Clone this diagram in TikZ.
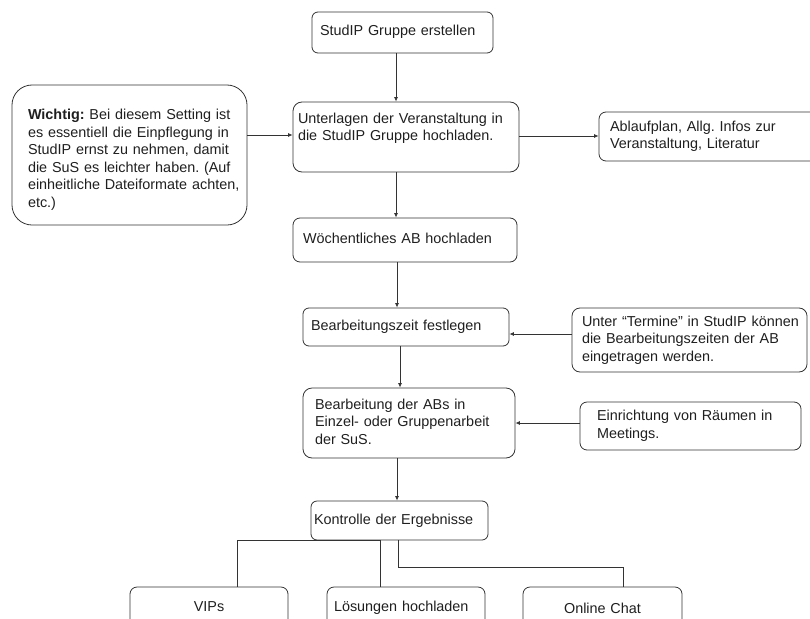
\documentclass[tikz,border=0pt]{standalone}
\usepackage{fontspec}
\setmainfont{Liberation Sans}
\usetikzlibrary{arrows.meta}
\definecolor{lc}{HTML}{333333}
\definecolor{tc}{HTML}{1F1F1F}
\frenchspacing
\begin{document}
\begin{tikzpicture}[x=1pt,y=-1pt,
  every node/.style={font=\fontsize{14.4}{17.5}\selectfont, text=tc},
  box/.style={draw=lc, line width=0.8pt, inner ysep=0pt, align=left,
    execute at begin node=\strut, execute at end node=\strut},
  cbox/.style={box, align=center},
  arr/.style={draw=lc, line width=0.8pt, -{Latex[length=4.5pt,width=4pt]}},
  ln/.style={draw=lc, line width=0.8pt}
]
\useasboundingbox (0,0) rectangle (810,618);
\clip (0,0) rectangle (810,618);

% boxes
\node[box, minimum width=181pt, minimum height=41pt, text width=165pt, inner xsep=8pt, rounded corners=6pt]
  (studip) at (402.5,32.5) {StudIP Gruppe erstellen};
\node[box, minimum width=226pt, minimum height=70pt, text width=216pt, inner xsep=5pt, rounded corners=9pt]
  (unterlagen) at (406,137) {\mbox{Unterlagen der Veranstaltung in}\\\mbox{die StudIP Gruppe hochladen.}\\};
\node[box, minimum width=235pt, minimum height=140pt, text width=203pt, inner xsep=16pt, rounded corners=20pt]
  (wichtig) at (129.5,155) {\rule{0pt}{22pt}\mbox{\textbf{Wichtig:} Bei diesem Setting ist}\\
  \mbox{es essentiell die Einpflegung in}\\
  \mbox{StudIP ernst zu nehmen, damit}\\
  \mbox{die SuS es leichter haben. (Auf}\\
  \mbox{einheitliche Dateiformate achten,}\\
  etc.)};
\node[box, minimum width=241pt, minimum height=49pt, text width=219pt, inner xsep=11pt, rounded corners=7pt]
  (ablauf) at (719.5,136.5) {\mbox{Ablaufplan, Allg. Infos zur}\\\mbox{Veranstaltung, Literatur}};
\node[box, minimum width=224pt, minimum height=44pt, text width=204pt, inner xsep=10pt, rounded corners=7pt]
  (woch) at (405,240) {Wöchentliches AB hochladen};
\node[box, minimum width=206pt, minimum height=38pt, text width=190pt, inner xsep=8pt, rounded corners=6pt]
  (bzeit) at (406,327) {Bearbeitungszeit festlegen};
\node[box, minimum width=235pt, minimum height=64pt, text width=215pt, inner xsep=10pt, rounded corners=8pt]
  (termine) at (689.5,340) {\mbox{Unter “Termine” in StudIP können}\\\mbox{die Bearbeitungszeiten der AB}\\\mbox{eingetragen werden.}};
\node[box, minimum width=212pt, minimum height=70pt, text width=188pt, inner xsep=12pt, rounded corners=9pt]
  (bearb) at (409,423) {\mbox{Bearbeitung der ABs in}\\\mbox{Einzel- oder Gruppenarbeit}\\\mbox{der SuS.}};
\node[box, minimum width=221pt, minimum height=48pt, text width=187pt, inner xsep=17pt, rounded corners=7pt]
  (einr) at (690.5,426) {\mbox{Einrichtung von Räumen in}\\\mbox{Meetings.}};
\node[box, minimum width=177pt, minimum height=39pt, text width=171pt, inner xsep=3pt, rounded corners=6pt]
  (kontrolle) at (399.5,520.5) {Kontrolle der Ergebnisse};
\node[cbox, minimum width=158pt, minimum height=42pt, text width=148pt, inner xsep=5pt, rounded corners=7pt]
  (vips) at (209,608) {VIPs};
\node[box, minimum width=158pt, minimum height=42pt, text width=144pt, inner xsep=7pt, rounded corners=7pt]
  (losungen) at (406,608) {\mbox{Lösungen hochladen}};
\node[cbox, minimum width=159pt, minimum height=46pt, text width=149pt, inner xsep=5pt, rounded corners=7pt]
  (online) at (602.5,610) {Online Chat};

% helper coordinates
\coordinate (c1) at (396,0);
\coordinate (c2) at (397,0);
\coordinate (c3) at (400,0);
\coordinate (c6) at (380,0);
\coordinate (c7) at (237,0);
\coordinate (c8) at (398,0);
\coordinate (c9) at (623,0);
\coordinate (r1) at (0,135);
\coordinate (r2) at (0,136);
\coordinate (r3) at (0,334);
\coordinate (r5) at (0,567);

% connectors
\draw[arr] (studip.south -| c1) -- (unterlagen.north -| c1);
\draw[arr] (unterlagen.south -| c1) -- (woch.north -| c1);
\draw[arr] (woch.south -| c2) -- (bzeit.north -| c2);
\draw[arr] (bzeit.south -| c3) -- (bearb.north -| c3);
\draw[arr] (bearb.south -| c2) -- (kontrolle.north -| c2);
\draw[arr] (wichtig.east |- r1) -- (unterlagen.west |- r1);
\draw[arr] (unterlagen.east |- r2) -- (ablauf.west |- r2);
\draw[arr] (termine.west |- r3) -- (bzeit.east |- r3);
\draw[arr] (einr.west |- bearb.east) -- (bearb.east);
\draw[ln] (kontrolle.south -| c6) -| (vips.north -| c7);
\draw[ln] (kontrolle.south -| c6) -- (losungen.north -| c6);
\draw[ln] (kontrolle.south -| c8) -- (c8 |- r5) -| (online.north -| c9);
\end{tikzpicture}
\end{document}
